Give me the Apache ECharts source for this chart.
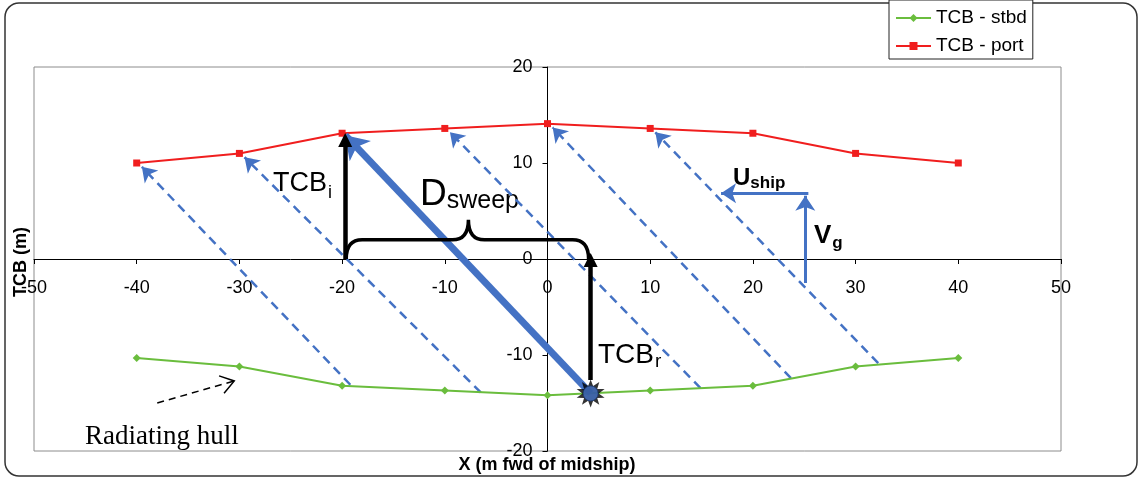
<!DOCTYPE html>
<html><head><meta charset="utf-8">
<script src="https://cdn.jsdelivr.net/npm/echarts@6/dist/echarts.min.js"></script>
<style>html,body{margin:0;padding:0;background:#fff}#c{width:1141px;height:480px}</style>
</head><body><div id="c"></div>
<script>
// ---- data ----
const xValues = [-40, -30, -20, -10, 0, 10, 20, 30, 40];
const stbd = [-10.3, -11.2, -13.2, -13.7, -14.2, -13.7, -13.2, -11.2, -10.3];
const port = [10.0, 11.0, 13.1, 13.6, 14.1, 13.6, 13.1, 11.0, 10.0];
const xRange = [-50, 50, 10];
const yRange = [-20, 20, 10];
// dashed sweep arrows: [start on stbd line, end at port point]
const sweepArrows = [
  [[-19.2, -13.1], [-39.5, 9.6]],
  [[-6.5, -13.9], [-29.5, 10.6]],
  [[14.9, -13.45], [-9.5, 13.2]],
  [[23.7, -12.4], [0.5, 13.7]],
  [[32.2, -10.85], [10.5, 13.2]]
];
const mainSweep = [[4.2, -14.0], [-19.7, 12.9]];
const tcbArrows = [[[-19.7, 0], [-19.7, 12.4]], [[4.2, -12.6], [4.2, -0.1]]];
const velocityArrows = [[[25.4, 6.85], [16.9, 6.85]], [[25.1, -2.5], [25.1, 6.6]]];
const brace = [-19.6, 4.0, -7.7, 0, 2.0, 4.1]; // x0, x1, xMid, yBase, yLine, yCusp
const radiator = [4.2, -14.0];
const hullPointer = [-38.0, -15.0, -30.5, -12.7];

const BLUE = '#4472c4';
const GREEN = '#6abd3d';
const RED = '#f01e1e';

const W = 1141, H = 480;
const G = {left: 34, right: 80, top: 67, bottom: 29};
const plotW = W - G.left - G.right, plotH = H - G.top - G.bottom;
// move the axes so they cross at the origin (labels follow the axis)
const yAxisOffset = -((0 - xRange[0]) / (xRange[1] - xRange[0])) * plotW;
const xAxisOffset = -((0 - yRange[0]) / (yRange[1] - yRange[0])) * plotH;

function starPath(n, ro, ri) {
  let d = '';
  for (let i = 0; i < 2 * n; i++) {
    const a = i * Math.PI / n - Math.PI / 2;
    const r = i % 2 ? ri : ro;
    d += (i ? 'L' : 'M') + (r * Math.cos(a)).toFixed(2) + ',' + (r * Math.sin(a)).toFixed(2);
  }
  return 'path://' + d + 'Z';
}

const chart = echarts.init(document.getElementById('c'), null, {renderer: 'canvas'});
const axisFont = {fontFamily: 'Liberation Sans, Arial, sans-serif', fontSize: 18, color: '#000'};

chart.setOption({
  animation: false,
  backgroundColor: '#fff',
  grid: Object.assign({show: true, borderColor: '#8c8c8c', borderWidth: 1, containLabel: false, outerBoundsMode: 'none'}, G),
  legend: {
    data: ['TCB - stbd', 'TCB - port'],
    orient: 'vertical', left: 889, top: 0,
    padding: [8, 6, 3, 6], itemGap: 8, itemWidth: 35, itemHeight: 10,
    borderColor: '#222', borderWidth: 1, backgroundColor: '#fff',
    textStyle: {fontFamily: 'Liberation Sans, Arial, sans-serif', fontSize: 19, color: '#000', lineHeight: 20}
  },
  xAxis: {
    type: 'value', min: xRange[0], max: xRange[1], interval: xRange[2],
    position: 'bottom', offset: xAxisOffset,
    axisLine: {onZero: false, lineStyle: {color: '#000', width: 1}},
    axisTick: {show: true, length: 5, lineStyle: {color: '#000'}},
    axisLabel: Object.assign({margin: 20, showMinLabel: true, showMaxLabel: true, hideOverlap: false}, axisFont),
    splitLine: {show: false}
  },
  yAxis: {
    type: 'value', min: yRange[0], max: yRange[1], interval: yRange[2],
    position: 'left', offset: yAxisOffset,
    axisLine: {onZero: false, lineStyle: {color: '#000', width: 1}},
    axisTick: {show: true, length: 5, lineStyle: {color: '#000'}},
    axisLabel: Object.assign({margin: 15, showMinLabel: true, showMaxLabel: true, hideOverlap: false}, axisFont),
    splitLine: {show: false}
  },
  series: [
    {
      name: 'sweep', type: 'lines', coordinateSystem: 'cartesian2d', z: 3,
      symbol: ['none', 'arrow'], symbolSize: 14,
      lineStyle: {color: BLUE, width: 2.5, type: [9, 6], opacity: 1},
      data: sweepArrows.map(c => ({coords: c}))
    },
    {
      name: 'TCB - stbd', type: 'line', z: 4, symbol: 'diamond', symbolSize: 8,
      itemStyle: {color: GREEN}, lineStyle: {color: GREEN, width: 2},
      data: xValues.map((x, i) => [x, stbd[i]])
    },
    {
      name: 'TCB - port', type: 'line', z: 4, symbol: 'rect', symbolSize: 7,
      itemStyle: {color: RED}, lineStyle: {color: RED, width: 2},
      data: xValues.map((x, i) => [x, port[i]])
    },
    {
      name: 'mainSweep', type: 'lines', coordinateSystem: 'cartesian2d', z: 5,
      symbol: ['none', 'arrow'], symbolSize: 22,
      lineStyle: {color: BLUE, width: 7, opacity: 1},
      data: [{coords: mainSweep}]
    },
    {
      name: 'tcb', type: 'lines', coordinateSystem: 'cartesian2d', z: 6,
      symbol: ['none', 'triangle'], symbolSize: [15, 14],
      lineStyle: {color: '#000', width: 4.5, opacity: 1},
      data: tcbArrows.map(c => ({coords: c}))
    },
    {
      name: 'velocity', type: 'lines', coordinateSystem: 'cartesian2d', z: 6,
      symbol: ['none', 'arrow'], symbolSize: 15,
      lineStyle: {color: BLUE, width: 3, opacity: 1},
      data: velocityArrows.map(c => ({coords: c}))
    },
    {
      name: 'brace', type: 'custom', coordinateSystem: 'cartesian2d', z: 6,
      data: [brace],
      renderItem: function (params, api) {
        const x0 = api.value(0), x1 = api.value(1), xm = api.value(2);
        const y0 = api.value(3), y1 = api.value(4), y2 = api.value(5);
        const a = api.coord([x0, y0]), b = api.coord([x0, y1]);
        const c = api.coord([xm, y1]), d = api.coord([xm, y2]);
        const e = api.coord([x1, y1]), f = api.coord([x1, y0]);
        const r = 16, rm = 16;
        const pd = 'M' + a[0] + ',' + a[1] +
          ' Q' + b[0] + ',' + b[1] + ' ' + (b[0] + r) + ',' + b[1] +
          ' L' + (c[0] - rm) + ',' + c[1] +
          ' Q' + c[0] + ',' + c[1] + ' ' + d[0] + ',' + d[1] +
          ' Q' + c[0] + ',' + c[1] + ' ' + (c[0] + rm) + ',' + c[1] +
          ' L' + (e[0] - r) + ',' + e[1] +
          ' Q' + e[0] + ',' + e[1] + ' ' + f[0] + ',' + f[1];
        return {type: 'path', shape: {pathData: pd}, style: {stroke: '#000', lineWidth: 3.5, fill: null}};
      }
    },
    {
      name: 'hullPointer', type: 'custom', coordinateSystem: 'cartesian2d', z: 6,
      data: [hullPointer],
      renderItem: function (params, api) {
        const s = api.coord([api.value(0), api.value(1)]);
        const t = api.coord([api.value(2), api.value(3)]);
        const ang = Math.atan2(t[1] - s[1], t[0] - s[0]);
        const L = 16, w = 0.6;
        const p1 = [t[0] - L * Math.cos(ang - w), t[1] - L * Math.sin(ang - w)];
        const p2 = [t[0] - L * Math.cos(ang + w), t[1] - L * Math.sin(ang + w)];
        return {type: 'group', children: [
          {type: 'line', shape: {x1: s[0], y1: s[1], x2: t[0], y2: t[1]}, style: {stroke: '#000', lineWidth: 1.5, lineDash: [7, 5]}},
          {type: 'polyline', shape: {points: [p1, t, p2]}, style: {stroke: '#000', lineWidth: 1.5, fill: null}}
        ]};
      }
    },
    {
      name: 'radiatorStar', type: 'scatter', z: 7, symbol: starPath(10, 10, 5.5), symbolSize: 28,
      itemStyle: {color: '#000'}, data: [radiator]
    },
    {
      name: 'radiator', type: 'scatter', z: 8, symbol: 'circle', symbolSize: 15,
      itemStyle: {color: BLUE, borderColor: '#1f3f7a', borderWidth: 1}, data: [radiator]
    }
  ],
  graphic: [
    {type: 'rect', z: -1, silent: true, shape: {x: 5, y: 3, width: 1132, height: 473, r: 14},
      style: {fill: null, stroke: '#333', lineWidth: 1.5}},
    {type: 'text', style: {x: 273, y: 170, text: '{a|TCB}{b|i}', verticalAlign: 'top',
      rich: {a: {fontFamily: 'Liberation Sans', fontSize: 27, lineHeight: 27, verticalAlign: 'top', fill: '#000'},
             b: {fontFamily: 'Liberation Sans', fontSize: 18, lineHeight: 18, verticalAlign: 'top', padding: [14, 0, 0, 1], fill: '#000'}}}},
    {type: 'text', style: {x: 420, y: 176, text: '{a|D}{b|sweep}', verticalAlign: 'top',
      rich: {a: {fontFamily: 'Liberation Sans', fontSize: 37, lineHeight: 37, verticalAlign: 'top', fill: '#000'},
             b: {fontFamily: 'Liberation Sans', fontSize: 25, lineHeight: 25, verticalAlign: 'top', padding: [13, 0, 0, 0], fill: '#000'}}}},
    {type: 'text', style: {x: 598, y: 341, text: '{a|TCB}{b|r}', verticalAlign: 'top',
      rich: {a: {fontFamily: 'Liberation Sans', fontSize: 28, lineHeight: 28, verticalAlign: 'top', fill: '#000'},
             b: {fontFamily: 'Liberation Sans', fontSize: 19, lineHeight: 19, verticalAlign: 'top', padding: [11, 0, 0, 1], fill: '#000'}}}},
    {type: 'text', style: {x: 733, y: 166, text: '{a|U}{b|ship}', verticalAlign: 'top',
      rich: {a: {fontFamily: 'Liberation Sans', fontWeight: 'bold', fontSize: 24, lineHeight: 24, verticalAlign: 'top', fill: '#000'},
             b: {fontFamily: 'Liberation Sans', fontWeight: 'bold', fontSize: 17, lineHeight: 17, verticalAlign: 'top', padding: [9, 0, 0, 0], fill: '#000'}}}},
    {type: 'text', style: {x: 814, y: 223, text: '{a|V}{b|g}', verticalAlign: 'top',
      rich: {a: {fontFamily: 'Liberation Sans', fontWeight: 'bold', fontSize: 26, lineHeight: 26, verticalAlign: 'top', fill: '#000'},
             b: {fontFamily: 'Liberation Sans', fontWeight: 'bold', fontSize: 17, lineHeight: 17, verticalAlign: 'top', padding: [12, 0, 0, 1], fill: '#000'}}}},
    {type: 'text', style: {x: 85, y: 437, text: 'Radiating hull', verticalAlign: 'middle',
      font: '27px "Liberation Serif", "Times New Roman", serif', fill: '#000'}},
    {type: 'text', style: {x: 547, y: 465, text: 'X (m fwd of midship)', align: 'center', verticalAlign: 'middle',
      font: 'bold 18px "Liberation Sans", Arial, sans-serif', fill: '#000'}},
    {type: 'text', rotation: Math.PI / 2, x: 21, y: 262, style: {x: 0, y: 0, text: 'TCB (m)', align: 'center', verticalAlign: 'middle',
      font: 'bold 18px "Liberation Sans", Arial, sans-serif', fill: '#000'}}
  ]
});
</script></body></html>
